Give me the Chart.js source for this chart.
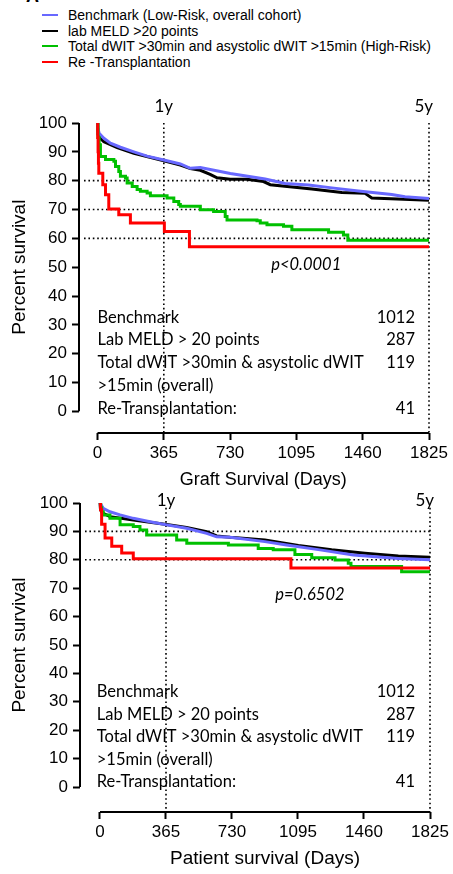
<!DOCTYPE html>
<html>
<head>
<meta charset="utf-8">
<script src="https://cdn.jsdelivr.net/npm/chart.js@4.4.1/dist/chart.umd.min.js"></script>
<style>
  html, body { margin: 0; padding: 0; background: #fff; }
  body { width: 453px; height: 874px; position: relative; overflow: hidden; font-family: "Liberation Sans", Arial, sans-serif; }
  #panel { position: absolute; left: 26px; top: -13px; font: bold 18px "Liberation Sans", Arial, sans-serif; line-height: 18px; }
  #legend { position: absolute; left: 42px; top: 7px; }
  .item { height: 15.7px; display: flex; align-items: center; font-size: 14px; white-space: nowrap; color: #000; }
  .sw { width: 16px; height: 2px; margin-right: 10px; flex: none; }
  canvas { position: absolute; left: 0; }
</style>
</head>
<body>
<div id="panel">A</div>
<div id="legend"></div>
<canvas id="graftChart" width="453" height="410" style="top:80px"></canvas>
<canvas id="patientChart" width="453" height="394" style="top:480px"></canvas>
<script>
// groups (legend order)
const seriesNames = [
  "Benchmark (Low-Risk, overall cohort)",
  "lab MELD >20 points",
  "Total dWIT >30min and asystolic dWIT >15min (High-Risk)",
  "Re -Transplantation"
];
const seriesColors = ["#6868ff", "#000000", "#00c000", "#ff0000"];
const drawOrder = [2, 3, 1, 0]; // red on top

const xTicks = [0, 365, 730, 1095, 1460, 1825];
const yTicks = [0, 10, 20, 30, 40, 50, 60, 70, 80, 90, 100];
const yearDays = [365, 1825];
const yearLabels = ["1y", "5y"];

const tableNames = ["Benchmark", "Lab MELD > 20 points", "Total dWIT >30min & asystolic dWIT", ">15min (overall)", "Re-Transplantation:"];
const tableCounts = ["1012", "287", "119", "", "41"];

// graft survival (days / percent)
const graftBenchDays = [0, 2, 9, 35, 71, 126, 200, 273, 365, 456, 511, 566, 676, 731, 923, 1033, 1162, 1290, 1436, 1620, 1693, 1825];
const graftBenchSurv = [100, 98.3, 96.4, 94.7, 93.0, 91.6, 90.0, 88.5, 87.2, 85.8, 84.3, 84.6, 83.2, 82.5, 80.6, 79.0, 78.5, 77.5, 76.4, 75.2, 74.4, 73.8];
const graftMeldDays = [0, 3, 10, 35, 108, 200, 365, 456, 511, 566, 620, 658, 731, 823, 914, 951, 1180, 1345, 1473, 1510, 1825];
const graftMeldSurv = [100, 96.0, 95.0, 93.5, 91.5, 89.5, 86.9, 85.4, 84.2, 83.6, 82.2, 81.0, 80.5, 80.5, 79.7, 78.6, 77.1, 75.9, 75.6, 74.0, 73.2];
const graftDwitDays = [0, 3, 9, 16, 44, 90, 99, 117, 126, 154, 163, 191, 218, 236, 273, 291, 383, 420, 447, 456, 566, 639, 703, 713, 878, 896, 933, 1024, 1070, 1272, 1354, 1378, 1825];
const graftDwitSurv = [100, 95.0, 92.5, 88.4, 87.3, 86.7, 84.9, 83.2, 81.5, 80.9, 79.2, 78.0, 76.9, 76.3, 75.7, 74.8, 74.0, 72.8, 71.7, 71.1, 69.9, 69.3, 67.6, 66.4, 66.1, 65.3, 64.7, 64.2, 63.0, 62.1, 61.2, 59.3, 59.3];
const graftReDays = [0, 1, 3, 5, 7, 29, 44, 62, 117, 181, 368, 506, 1825];
const graftReSurv = [100, 95.0, 90.0, 86.0, 82.6, 78.6, 75.1, 70.2, 68.2, 65.3, 62.4, 57.1, 57.1];

// patient survival (days / percent)
const patBenchDays = [0, 18, 55, 111, 184, 277, 369, 479, 590, 645, 719, 912, 1032, 1217, 1401, 1650, 1825];
const patBenchSurv = [100, 98.1, 96.9, 95.8, 94.6, 93.4, 92.3, 91.1, 89.3, 88.1, 87.9, 86.4, 85.2, 83.5, 81.7, 80.5, 80.0];
const patMeldDays = [0, 3, 18, 55, 184, 369, 479, 590, 645, 719, 912, 1097, 1281, 1465, 1650, 1825];
const patMeldSurv = [100, 97.5, 96.4, 95.2, 94.0, 92.4, 91.4, 89.9, 88.4, 87.9, 87.0, 85.0, 83.5, 82.3, 81.3, 80.9];
const patDwitDays = [0, 4, 9, 18, 55, 111, 184, 221, 258, 424, 480, 710, 875, 958, 1078, 1171, 1300, 1373, 1388, 1668, 1825];
const patDwitSurv = [100, 98.3, 96.9, 95.8, 94.6, 92.3, 91.7, 90.5, 88.7, 87.0, 85.8, 85.2, 84.0, 83.5, 81.9, 80.7, 79.9, 78.8, 77.6, 75.8, 75.8];
const patReDays = [0, 3, 9, 28, 65, 120, 184, 1056, 1825];
const patReSurv = [100, 97.6, 92.5, 87.7, 84.8, 82.4, 80.4, 77.1, 77.1];

// legend
const legendEl = document.getElementById("legend");
seriesNames.forEach((name, i) => {
  const row = document.createElement("div");
  row.className = "item";
  row.innerHTML = '<span class="sw" style="background:' + seriesColors[i] + '"></span>' + name;
  legendEl.appendChild(row);
});

function kmDataset(i, days, surv, stepped) {
  return {
    label: seriesNames[i],
    data: days.map((d, k) => ({ x: d, y: surv[k] })),
    borderColor: seriesColors[i],
    backgroundColor: seriesColors[i],
    borderWidth: 3,
    pointRadius: 0,
    fill: false,
    tension: 0,
    stepped: stepped ? "before" : false,
    order: drawOrder[i]
  };
}

const tickFont = { family: "'Liberation Sans', Arial, sans-serif", size: 17 };

// dotted guides, offset axes and the text annotations
function survivalDecor(cfg) {
  return {
    id: "survivalDecor",
    beforeDatasetsDraw(chart) {
      const { ctx, chartArea, scales: { x, y } } = chart;
      ctx.save();
      ctx.strokeStyle = "#000";
      ctx.lineWidth = 1.6;
      ctx.setLineDash([1.6, 2.8]);
      cfg.refLevels.forEach(v => {
        const py = y.getPixelForValue(v);
        ctx.beginPath();
        ctx.moveTo(chartArea.left + 5, py);
        ctx.lineTo(x.getPixelForValue(1825), py);
        ctx.stroke();
      });
      yearDays.forEach(d => {
        const px = x.getPixelForValue(d);
        ctx.beginPath();
        ctx.moveTo(px, y.getPixelForValue(cfg.yearLineTop));
        ctx.lineTo(px, chartArea.bottom);
        ctx.stroke();
      });
      ctx.restore();
    },
    afterDraw(chart) {
      const { ctx, chartArea, scales: { x, y } } = chart;
      ctx.save();
      // axis lines: y from 0 to 100, x from day 0 to 1825 (offset GraphPad style)
      ctx.strokeStyle = "#000";
      ctx.lineWidth = 2;
      ctx.beginPath();
      ctx.moveTo(chartArea.left, y.getPixelForValue(100));
      ctx.lineTo(chartArea.left, y.getPixelForValue(0));
      ctx.stroke();
      ctx.beginPath();
      ctx.moveTo(x.getPixelForValue(0), chartArea.bottom);
      ctx.lineTo(x.getPixelForValue(1825), chartArea.bottom);
      ctx.stroke();

      ctx.fillStyle = "#000";
      ctx.textBaseline = "middle";

      // 1y / 5y
      ctx.font = "17px Lato, sans-serif";
      yearDays.forEach((d, i) => {
        const px = x.getPixelForValue(d);
        ctx.textAlign = i === 0 ? "center" : "right";
        ctx.fillText(yearLabels[i], i === 0 ? px : px + 4, y.getPixelForValue(cfg.yearLabelY));
      });

      // p value
      ctx.font = "italic 16.5px Lato, sans-serif";
      ctx.textAlign = "center";
      ctx.fillText(cfg.pText, x.getPixelForValue(cfg.pX), y.getPixelForValue(cfg.pY));

      // group sizes
      ctx.font = "16.5px Lato, sans-serif";
      tableNames.forEach((t, i) => {
        const py = y.getPixelForValue(cfg.tableY[i]);
        ctx.textAlign = "left";
        ctx.fillText(t, x.getPixelForValue(cfg.tableX0), py);
        ctx.textAlign = "right";
        ctx.fillText(tableCounts[i], x.getPixelForValue(cfg.tableX1), py);
      });

      // axis titles
      ctx.font = cfg.titleSize + "px 'Liberation Sans', Arial, sans-serif";
      ctx.textAlign = "center";
      ctx.fillText(cfg.xTitle, x.getPixelForValue(1825 / 2), chartArea.bottom + 47);
      ctx.translate(20, y.getPixelForValue(50));
      ctx.rotate(-Math.PI / 2);
      ctx.font = "19px 'Liberation Sans', Arial, sans-serif";
      ctx.fillText("Percent survival", 0, 0);
      ctx.restore();
    }
  };
}

function makeChart(id, datasets, cfg) {
  return new Chart(document.getElementById(id), {
    type: "line",
    data: { datasets: datasets },
    options: {
      responsive: false,
      animation: false,
      events: [],
      layout: { padding: { top: cfg.padTop, right: cfg.padRight, bottom: 0, left: 0 } },
      plugins: { legend: { display: false }, tooltip: { enabled: false } },
      scales: {
        x: {
          type: "linear",
          min: cfg.xMin,
          max: 1825,
          afterBuildTicks: axis => { axis.ticks = xTicks.map(v => ({ value: v })); },
          afterFit: axis => { axis.height = cfg.xAxisHeight; },
          border: { display: false },
          grid: { display: true, drawOnChartArea: false, drawTicks: true, tickLength: 7, tickWidth: 2, tickColor: "#000" },
          ticks: { color: "#000", font: tickFont, padding: 3, maxRotation: 0, autoSkip: false, callback: v => String(v) }
        },
        y: {
          min: cfg.yMin,
          max: 100,
          afterBuildTicks: axis => { axis.ticks = yTicks.map(v => ({ value: v })); },
          afterFit: axis => { axis.width = cfg.yAxisWidth; },
          border: { display: false },
          grid: { display: true, drawOnChartArea: false, drawTicks: true, tickLength: 7, tickWidth: 2, tickColor: "#000" },
          ticks: { color: "#000", font: tickFont, padding: 5, autoSkip: false, callback: v => String(v) }
        }
      }
    },
    plugins: [survivalDecor(cfg)]
  });
}

makeChart("graftChart", [
  kmDataset(0, graftBenchDays, graftBenchSurv, false),
  kmDataset(1, graftMeldDays, graftMeldSurv, false),
  kmDataset(2, graftDwitDays, graftDwitSurv, true),
  kmDataset(3, graftReDays, graftReSurv, true)
], {
  padTop: 43, padRight: 24, xMin: -102, yMin: -7.5, xAxisHeight: 57, yAxisWidth: 79,
  refLevels: [80, 70, 60], yearLineTop: 100, yearLabelY: 105.7,
  pText: "p<0.0001", pX: 1149, pY: 50.8,
  tableX0: 0, tableX1: 1748, tableY: [32.6, 24.7, 16.8, 8.9, 1.0],
  xTitle: "Graft Survival (Days)", titleSize: 18
});

makeChart("patientChart", [
  kmDataset(0, patBenchDays, patBenchSurv, false),
  kmDataset(1, patMeldDays, patMeldSurv, false),
  kmDataset(2, patDwitDays, patDwitSurv, true),
  kmDataset(3, patReDays, patReSurv, true)
], {
  padTop: 23, padRight: 23, xMin: -110.6, yMin: -8.8, xAxisHeight: 62, yAxisWidth: 80,
  refLevels: [90, 80], yearLineTop: 98.3, yearLabelY: 101,
  pText: "p=0.6502", pX: 1161, pY: 67.6,
  tableX0: -18, tableX1: 1742, tableY: [33.6, 25.4, 17.7, 9.5, 1.9],
  xTitle: "Patient survival (Days)", titleSize: 19
});
</script>
</body>
</html>
